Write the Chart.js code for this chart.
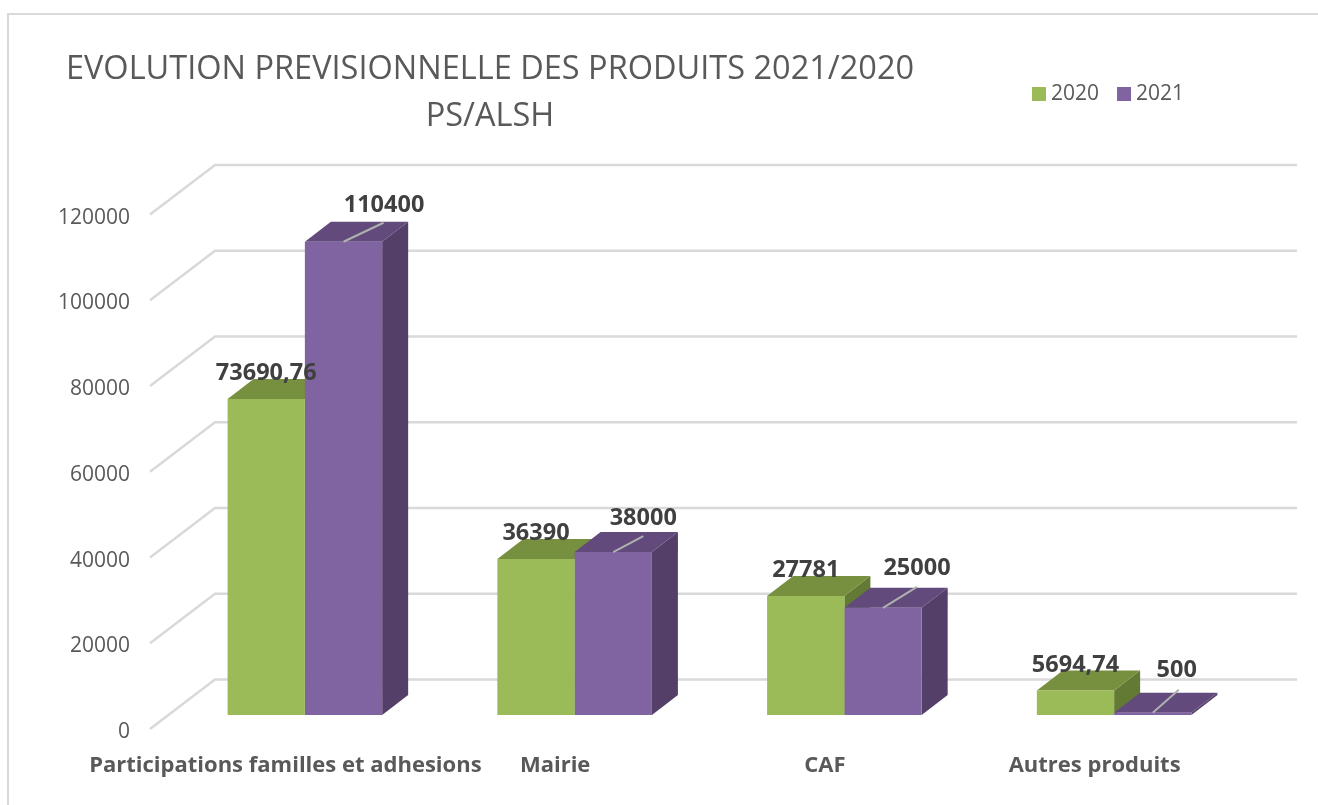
<!DOCTYPE html>
<html lang="fr">
<head>
<meta charset="utf-8">
<title>Evolution previsionnelle des produits</title>
<script src="https://cdn.jsdelivr.net/npm/chart.js@4"></script>
<style>
  body { margin: 0; background: #fff; }
  #wrap { position: relative; width: 1318px; height: 805px; overflow: hidden; }
  #frame { position: absolute; left: 7px; top: 13px; width: 1320px; height: 800px;
           border-left: 2px solid #d9d9d9; border-top: 2px solid #d9d9d9; }
  canvas { position: absolute; left: 0; top: 0; }
</style>
</head>
<body>
<div id="wrap">
  <div id="frame"></div>
  <canvas id="myChart" width="1318" height="805"></canvas>
</div>
<script>
const categories = ["Participations familles et adhesions", "Mairie", "CAF", "Autres produits"];
const values2020 = [73690.76, 36390, 27781, 5694.74];
const values2021 = [110400, 38000, 25000, 500];
const labels2020 = ["73690,76", "36390", "27781", "5694,74"];
const labels2021 = ["110400", "38000", "25000", "500"];
const titleLines = ["EVOLUTION PREVISIONNELLE DES PRODUITS 2021/2020", "PS/ALSH"];

const FONT = "'Open Sans', sans-serif";
const TEXT = "#595959";

// faces of the fake 3d bars
const faces = [
  { top: "#77903f", side: "#637a35" },
  { top: "#624a7c", side: "#533f68" },
];
const depth = { x: 26, y: -20 };

// where the 2021 labels sit, from the bar top centre
const nudge2021 = [
  { x: 40.5, y: -36, lx: 40, ly: -19 },
  { x: 30, y: -34, lx: 30, ly: -16 },
  { x: 34, y: -40, lx: 34, ly: -21 },
  { x: 24, y: -43, lx: 26, ly: -23 },
];

function quad(ctx, pts, color) {
  ctx.fillStyle = color;
  ctx.beginPath();
  pts.forEach((p, i) => (i ? ctx.lineTo(p[0], p[1]) : ctx.moveTo(p[0], p[1])));
  ctx.closePath();
  ctx.fill();
}

const fake3d = {
  id: "fake3d",
  afterLayout(chart) {
    // title and legend are not centred on the canvas in the reference
    const t = chart.titleBlock;
    t.left = 0;
    t.right = 980;
    const l = chart.legend;
    l.left = 1037.5 - l.options.labels.padding;
    l.right = 1318;
    l.top = 60;
  },
  beforeDatasetsDraw(chart) {
    const ctx = chart.ctx;
    const y = chart.scales.y;
    const { left, right } = chart.chartArea;

    // walls
    ctx.save();
    ctx.strokeStyle = "#d9d9d9";
    ctx.lineWidth = 2.5;
    y.ticks.forEach((tick) => {
      const py = y.getPixelForValue(tick.value);
      ctx.beginPath();
      ctx.moveTo(left - 20, py + 14);
      ctx.lineTo(left + 45, py - 35.6);
      ctx.lineTo(right + 48, py - 35.6);
      ctx.stroke();
    });
    ctx.restore();

    // bar tops and sides
    chart.data.datasets.forEach((ds, i) => {
      chart.getDatasetMeta(i).data.forEach((bar) => {
        const x0 = bar.x - bar.width / 2;
        const x1 = bar.x + bar.width / 2;
        const dx = depth.x;
        const dy = depth.y;
        quad(ctx, [[x1, bar.y], [x1 + dx, bar.y + dy], [x1 + dx, bar.base + dy], [x1, bar.base]], faces[i].side);
        quad(ctx, [[x0, bar.y], [x0 + dx, bar.y + dy], [x1 + dx, bar.y + dy], [x1, bar.y]], faces[i].top);
      });
    });
  },
  afterDatasetsDraw(chart) {
    const ctx = chart.ctx;
    ctx.save();
    ctx.font = "bold 23.5px " + FONT;
    ctx.textAlign = "center";
    ctx.textBaseline = "middle";

    chart.getDatasetMeta(0).data.forEach((bar, i) => {
      ctx.fillStyle = "#404040";
      ctx.fillText(labels2020[i], bar.x, bar.y - 25.5);
    });

    chart.getDatasetMeta(1).data.forEach((bar, i) => {
      const n = nudge2021[i];
      ctx.strokeStyle = "#b0b0b0";
      ctx.lineWidth = 2;
      ctx.beginPath();
      ctx.moveTo(bar.x, bar.y);
      ctx.lineTo(bar.x + n.lx, bar.y + n.ly);
      ctx.stroke();
      ctx.fillStyle = "#404040";
      ctx.fillText(labels2021[i], bar.x + n.x, bar.y + n.y);
    });
    ctx.restore();
  },
};

const ctx = document.getElementById("myChart");

const chart = new Chart(ctx, {
  type: "bar",
  data: {
    labels: categories,
    datasets: [
      { label: "2020", data: values2020, backgroundColor: "#9bbb59" },
      { label: "2021", data: values2021, backgroundColor: "#8064a2" },
    ],
  },
  options: {
    responsive: false,
    animation: false,
    categoryPercentage: 0.573,
    barPercentage: 1,
    layout: { padding: { left: 0, right: 69, top: 0, bottom: 0 } },
    plugins: {
      tooltip: { enabled: false },
      title: {
        display: true,
        text: titleLines,
        color: TEXT,
        font: { family: FONT, size: 32.5, weight: "normal", lineHeight: 1.45 },
        padding: { top: 46, bottom: 0 },
      },
      legend: {
        position: "top",
        align: "start",
        labels: {
          color: TEXT,
          font: { family: FONT, size: 21 },
          usePointStyle: true,
          pointStyle: "rect",
          boxWidth: 3,
          boxHeight: 14,
          padding: 23.5,
        },
      },
    },
    scales: {
      x: {
        grid: { display: false },
        border: { display: false },
        afterFit(scale) {
          scale.height = 90;
        },
        ticks: {
          color: TEXT,
          font: { family: FONT, size: 22, weight: "bold" },
          padding: 30,
          labelOffset: -19.5,
          maxRotation: 0,
          autoSkip: false,
        },
      },
      y: {
        min: 0,
        max: 120000,
        grid: { display: false },
        border: { display: false },
        afterFit(scale) {
          scale.width = 170;
        },
        ticks: {
          stepSize: 20000,
          color: TEXT,
          font: { family: FONT, size: 21 },
          padding: 32,
          labelOffset: 17,
          callback: (v) => String(v),
        },
      },
    },
  },
  plugins: [fake3d],
});

// the plot has to start at the same height as the reference
chart.options.plugins.title.padding.bottom += 200.6 - chart.chartArea.top;
chart.update("none");
</script>
</body>
</html>
